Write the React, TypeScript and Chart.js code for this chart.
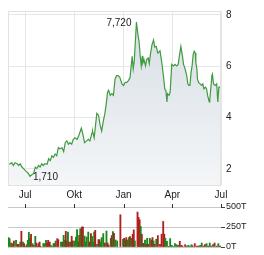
import React, { useEffect, useRef } from "react";
import { Chart, registerables } from "chart.js";

Chart.register(...registerables);

// ---- data ----
const quarterDays = [0, 92, 184, 275, 366];
const quarterLabels = ["Jul", "Okt", "Jan", "Apr", "Jul"];
const priceTicks = [2, 4, 6, 8];
const volTicks = [0, 250, 500];

const priceDays = [
  -32, -28, -25, -22, -19, -15, -12, -9, -6, -3, 0, 3, 6, 9, 13, 16, 19, 22, 25, 28,
  31, 34, 37, 41, 44, 47, 50, 53, 56, 59, 62, 65, 69, 72, 75, 78, 81, 84, 87, 90,
  93, 97, 100, 105, 108, 111, 115, 118, 121, 125, 126, 129, 134, 137, 140, 143, 146, 149, 152, 154,
  156, 159, 162, 165, 168, 171, 174, 177, 181, 184, 187, 190, 193, 196, 200, 202, 204, 208, 211, 213,
  215, 217, 219, 220, 222, 225, 227, 230, 232, 234, 237, 240, 242, 245, 248, 252, 255, 258, 261, 263,
  265, 266, 269, 271, 274, 277, 280, 283, 286, 289, 291, 294, 296, 297, 299, 302, 304, 306, 308, 310,
  312, 314, 316, 318, 319, 321, 322, 324, 327, 330, 332, 334, 337, 339, 341, 344, 345, 349, 350, 352,
  355, 358, 360, 362, 364, 366,
];
const priceValues = [
  2.17, 2.2, 2.24, 2.13, 2.24, 2.2, 2.13, 2.2, 2.07, 2.01, 1.94, 1.88, 1.82, 1.71, 1.78, 1.82, 2.07, 2.01, 2.13, 2.07,
  2.2, 2.13, 2.2, 2.18, 2.39, 2.32, 2.51, 2.45, 2.58, 2.51, 2.83, 2.78, 2.82, 2.67, 3.02, 3.09, 2.96, 3.02, 2.96, 3.15,
  3.21, 3.15, 3.28, 3.59, 3.34, 3.02, 3.09, 3.15, 3.09, 3.4, 3.47, 3.21, 4.16, 4.1, 3.72, 3.47, 3.85, 4.15, 4.61, 4.99,
  5.06, 4.86, 4.93, 4.86, 5.5, 5.63, 5.63, 5.56, 5.31, 5.25, 5.37, 5.37, 5.44, 5.56, 6.38, 5.9, 6.22, 7.72, 7.2, 6.95,
  6.4, 6.01, 6.4, 6.13, 6.26, 6.01, 6.26, 6.32, 6.1, 6.45, 6.83, 7.02, 6.75, 6.77, 6.51, 6.6, 6.2, 5.7, 5.1, 5.05,
  4.61, 4.93, 4.86, 4.99, 6.07, 6.01, 6.07, 6.01, 6.07, 6.51, 6.77, 6.39, 6.07, 6.01, 5.88, 5.63, 5.31, 5.25, 5.25, 5.75,
  6.01, 6.45, 6.58, 6.51, 6.13, 5.88, 5.5, 5.37, 5.31, 5.25, 5.31, 5.12, 5.18, 5.12, 4.86, 4.61, 4.67, 5.63, 5.69, 5.31,
  5.25, 5.31, 4.61, 5.18, 5.18, 5.21,
];

const volDays = [
  -31, -29, -26, -24, -21, -17, -14, -12, -9, -7, -4, -2, 0, 3, 5, 7, 9, 11, 14, 16,
  19, 21, 23, 25, 27, 29, 34, 36, 39, 41, 43, 46, 48, 50, 53, 55, 57, 60, 62, 67,
  70, 72, 74, 76, 78, 80, 82, 85, 87, 89, 92, 95, 97, 99, 101, 103, 106, 108, 111, 113,
  115, 118, 120, 123, 125, 127, 129, 131, 134, 137, 139, 141, 143, 146, 149, 152, 154, 156, 160, 162,
  164, 166, 169, 172, 178, 183, 185, 187, 189, 192, 194, 196, 199, 201, 203, 205, 210, 212, 214, 216,
  218, 220, 222, 224, 226, 228, 230, 233, 236, 238, 240, 242, 245, 248, 252, 255, 258, 260, 262, 265,
  268, 271, 274, 277, 280, 283, 286, 289, 292, 294, 299, 302, 305, 308, 311, 313, 317, 321, 324, 327,
  330, 333, 336, 339, 342, 345, 348, 351, 354, 358, 361, 364, 366,
];
const volValues = [
  117, 104, 50, 42, 75, 83, 33, 33, 62, 196, 62, 42, 8, 29, 83, 183, 112, 158, 42, 21,
  133, 50, 8, 42, 62, 8, 42, 42, 83, 50, 83, 62, 21, 8, 42, 42, 75, 104, 92, 62,
  62, 146, 83, 196, 75, 187, 62, 62, 133, 75, 75, 125, 217, 62, 146, 229, 250, 250, 137, 62,
  125, 187, 62, 167, 133, 62, 187, 208, 33, 92, 92, 62, 117, 167, 50, 200, 50, 25, 109, 143,
  193, 172, 88, 75, 403, 97, 109, 88, 118, 88, 118, 130, 109, 160, 214, 76, 437, 370, 340, 256,
  160, 46, 46, 88, 34, 109, 34, 109, 88, 118, 76, 34, 97, 143, 34, 160, 319, 160, 110, 70,
  8, 105, 21, 8, 42, 29, 21, 71, 21, 12, 29, 12, 21, 12, 29, 12, 42, 12, 12, 21,
  50, 12, 29, 42, 12, 50, 12, 29, 50, 12, 42, 12, 8,
];
// 1 = rising day (green), 0 = falling day (red)
const volUp = [
  1, 1, 0, 1, 0, 1, 0, 0, 1, 0, 1, 0, 0, 0, 1, 1, 1, 0, 1, 0,
  1, 0, 1, 0, 0, 0, 1, 1, 1, 0, 0, 0, 1, 1, 1, 0, 1, 0, 0, 1,
  0, 1, 1, 0, 0, 1, 0, 1, 0, 0, 1, 1, 1, 1, 0, 1, 0, 0, 1, 1,
  1, 1, 0, 0, 1, 1, 1, 0, 1, 0, 0, 1, 1, 1, 0, 1, 0, 0, 1, 0,
  1, 0, 1, 1, 0, 1, 0, 1, 0, 1, 1, 0, 1, 0, 0, 1, 0, 0, 0, 1,
  0, 1, 0, 1, 0, 1, 0, 1, 0, 0, 1, 0, 1, 0, 0, 0, 0, 0, 1, 1,
  0, 1, 1, 1, 1, 1, 1, 0, 0, 0, 0, 1, 1, 1, 1, 0, 0, 0, 0, 1,
  1, 0, 0, 1, 0, 1, 0, 1, 0, 0, 1, 0, 1,
];

// ---- styles ----
const FONT = "Arial, 'Liberation Sans', sans-serif";
const TEXT = "#222222";
const LINE = "#3f9b3f";
const GREEN = "#17891a";
const RED = "#b21f1f";

const fmt = (v: number) => v.toFixed(3).replace(".", ",");

export default function App() {
  const priceRef = useRef<HTMLCanvasElement>(null);
  const volRef = useRef<HTMLCanvasElement>(null);

  useEffect(() => {
    const boxPlugin = {
      id: "box",
      afterDatasetsDraw(chart: any) {
        const { ctx, chartArea: a } = chart;
        ctx.save();
        ctx.strokeStyle = "#e2e2e2";
        ctx.lineWidth = 1;
        ctx.strokeRect(a.left + 0.5, a.top + 0.5, a.right - a.left - 1, a.bottom - a.top);
        ctx.restore();
      },
    };
    const labelPlugin = {
      id: "hilo",
      afterDatasetsDraw(chart: any) {
        const { ctx } = chart;
        const xs = chart.scales.x;
        const ys = chart.scales.y;
        let hi = 0;
        let lo = 0;
        priceValues.forEach((v, i) => {
          if (v > priceValues[hi]) hi = i;
          if (v < priceValues[lo]) lo = i;
        });
        ctx.save();
        ctx.font = `10px ${FONT}`;
        ctx.fillStyle = TEXT;
        ctx.textBaseline = "middle";
        ctx.textAlign = "right";
        ctx.fillText(fmt(priceValues[hi]), xs.getPixelForValue(priceDays[hi]) - 5, ys.getPixelForValue(priceValues[hi]) + 1);
        ctx.textAlign = "left";
        ctx.fillText(fmt(priceValues[lo]), xs.getPixelForValue(priceDays[lo]) + 3, ys.getPixelForValue(priceValues[lo]) + 1);
        ctx.restore();
      },
    };

    const price = new Chart(priceRef.current!, {
      type: "line",
      data: {
        datasets: [
          {
            data: priceDays.map((d, i) => ({ x: d, y: priceValues[i] })),
            borderColor: LINE,
            borderWidth: 1.2,
            pointRadius: 0,
            tension: 0,
            fill: "start",
            backgroundColor: (c: any) => {
              const a = c.chart.chartArea;
              if (!a) return "#e4e9ee";
              const g = c.chart.ctx.createLinearGradient(0, a.top, 0, a.bottom);
              g.addColorStop(0, "#d6dde4");
              g.addColorStop(1, "#f4f6f8");
              return g;
            },
          },
        ],
      },
      options: {
        animation: false,
        responsive: false,
        maintainAspectRatio: false,
        layout: { padding: { left: 8, top: 7, right: 0, bottom: 0 } },
        plugins: { legend: { display: false }, tooltip: { enabled: false } },
        scales: {
          x: {
            type: "linear",
            min: -32,
            max: 366,
            afterBuildTicks: (s: any) => {
              s.ticks = quarterDays.map((v) => ({ value: v }));
            },
            afterFit: (s: any) => {
              s.height = 20;
            },
            ticks: {
              autoSkip: false,
              maxRotation: 0,
              padding: 4,
              color: TEXT,
              font: { size: 10, family: FONT },
              callback: (v: any) => {
                const i = quarterDays.indexOf(Number(v));
                return i >= 0 ? quarterLabels[i] : "";
              },
            },
            grid: { color: "#e6e6e6", drawTicks: false },
            border: { display: false },
          },
          y: {
            position: "right",
            min: 1.37,
            max: 8.15,
            afterBuildTicks: (s: any) => {
              s.ticks = priceTicks.map((v) => ({ value: v }));
            },
            afterFit: (s: any) => {
              s.width = 43;
            },
            ticks: {
              padding: 5,
              color: TEXT,
              font: { size: 10, family: FONT },
              callback: (v: any) => String(v),
            },
            grid: { color: "#e6e6e6", drawTicks: false },
            border: { display: false },
          },
        },
      },
      plugins: [boxPlugin, labelPlugin],
    } as any);

    const tickPlugin = {
      id: "qticks",
      afterDraw(chart: any) {
        const { ctx, chartArea: a } = chart;
        const xs = chart.scales.x;
        ctx.save();
        ctx.strokeStyle = "#333333";
        ctx.lineWidth = 1;
        quarterDays.forEach((d) => {
          const x = Math.round(xs.getPixelForValue(d)) + 0.5;
          ctx.beginPath();
          ctx.moveTo(x, a.top - 3);
          ctx.lineTo(x, a.top + 1);
          ctx.stroke();
        });
        ctx.restore();
      },
    };

    const vol = new Chart(volRef.current!, {
      type: "bar",
      data: {
        datasets: [
          {
            data: volDays.map((d, i) => ({ x: d, y: volValues[i] })),
            backgroundColor: volUp.map((u) => (u ? GREEN : RED)),
            barThickness: 1.2,
            borderWidth: 0,
          },
        ],
      },
      options: {
        animation: false,
        responsive: false,
        maintainAspectRatio: false,
        layout: { padding: { left: 8, top: 9, right: 0, bottom: 8 } },
        plugins: { legend: { display: false }, tooltip: { enabled: false } },
        scales: {
          x: { type: "linear", min: -32, max: 366, display: false, offset: false },
          y: {
            position: "right",
            min: 0,
            max: 500,
            afterBuildTicks: (s: any) => {
              s.ticks = volTicks.map((v) => ({ value: v }));
            },
            afterFit: (s: any) => {
              s.width = 43;
            },
            ticks: {
              padding: 1,
              color: TEXT,
              font: { size: 9, family: FONT },
              callback: (v: any) => `${v}T`,
            },
            grid: { color: "#c8c8c8", tickColor: "#444444", tickLength: 4, drawTicks: true },
            border: { display: false },
          },
        },
      },
      plugins: [tickPlugin],
    } as any);

    return () => {
      price.destroy();
      vol.destroy();
    };
  }, []);

  return (
    <div style={{ position: "absolute", left: 0, top: 0, width: 264, height: 255, background: "#fff" }}>
      <canvas ref={priceRef} width={264} height={205} style={{ position: "absolute", left: 0, top: 0 }} />
      <canvas ref={volRef} width={264} height={57} style={{ position: "absolute", left: 0, top: 198 }} />
    </div>
  );
}
